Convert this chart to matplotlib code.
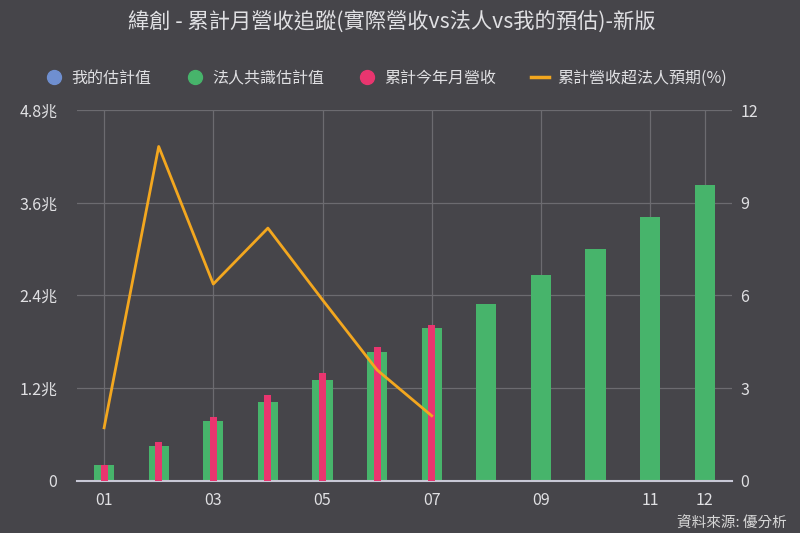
import numpy as np
import matplotlib
matplotlib.use('Agg')
import matplotlib.pyplot as plt
from matplotlib.lines import Line2D

plt.rcParams['font.family'] = ['Noto Sans CJK TC', 'DejaVu Sans']

# data
months = np.arange(1, 13)
tick_months = [1, 3, 5, 7, 9, 11, 12]
tick_labels = ['01', '03', '05', '07', '09', '11', '12']

consensus = [0.21, 0.45, 0.78, 1.02, 1.31, 1.67, 1.98, 2.29, 2.67, 3.00, 3.41, 3.83]   # 法人共識估計值 (兆)
actual = [0.21, 0.50, 0.83, 1.11, 1.40, 1.73, 2.02]                                  # 累計今年月營收 (兆)
beat_pct = [1.72, 10.82, 6.37, 8.18, 5.86, 3.59, 2.11]                                # 累計營收超法人預期 (%)
my_est = []                                                                           # 我的估計值 (none shown)

left_ticks = [0, 1.2, 2.4, 3.6, 4.8]
left_labels = ['0', '1.2兆', '2.4兆', '3.6兆', '4.8兆']
right_ticks = [0, 3, 6, 9, 12]

# colours
bg = '#46454a'
txt = '#e0e0e3'
grid_c = '#6c6b70'
blue = '#6f8fd0'
green = '#47b46b'
pink = '#e9356f'
orange = '#f3a71f'

fig = plt.figure(figsize=(8, 5.33), dpi=100, facecolor=bg)
ax = fig.add_axes([0.096, 0.0976, 0.819, 0.696])
ax.set_facecolor(bg)
ax2 = ax.twinx()

ax.bar(months, consensus, width=0.37, color=green, zorder=2)
ax.bar(months[:len(actual)], actual, width=0.13, color=pink, zorder=3)
ax2.plot(months[:len(beat_pct)], beat_pct, color=orange, lw=2, zorder=4)

ax.set_xlim(0.5, 12.5)
ax.set_ylim(0, 4.8)
ax2.set_ylim(0, 12)

ax.set_xticks(tick_months)
ax.set_xticklabels(tick_labels)
ax.set_yticks(left_ticks)
ax.set_yticklabels(left_labels)
ax2.set_yticks(right_ticks)

ax.grid(True, color=grid_c, lw=0.9)
ax.set_axisbelow(True)

for a in (ax, ax2):
    for s in a.spines.values():
        s.set_visible(False)
    a.tick_params(length=0, colors=txt, labelsize=11.5)
ax.spines['bottom'].set_visible(True)
ax.spines['bottom'].set_color('#c8c8d6')
ax.spines['bottom'].set_linewidth(1.5)
ax.tick_params(axis='y', pad=14)
ax.tick_params(axis='x', pad=8)
ax2.tick_params(axis='y', pad=6)

fig.text(0.49, 1 - 22 / 533, '緯創 - 累計月營收追蹤(實際營收vs法人vs我的預估)-新版',
         ha='center', va='center', fontsize=15.3, color=txt)

handles = [
    Line2D([], [], ls='none', marker='o', ms=10, color=blue),
    Line2D([], [], ls='none', marker='o', ms=10, color=green),
    Line2D([], [], ls='none', marker='o', ms=10, color=pink),
    Line2D([], [], color=orange, lw=2.5),
]
names = ['我的估計值', '法人共識估計值', '累計今年月營收', '累計營收超法人預期(%)']
fig.legend(handles, names, loc='center', bbox_to_anchor=(0.4825, 1 - 78 / 533), ncol=4,
           frameon=False, fontsize=11.5, labelcolor=txt, handlelength=1.15,
           handletextpad=0.5, columnspacing=2.15)

fig.text(0.984, 1 - 524 / 533, '資料來源: 優分析', ha='right', va='center',
         fontsize=10.5, color='#d8d8d8')

fig.savefig('out.png', dpi=100, facecolor=bg)
